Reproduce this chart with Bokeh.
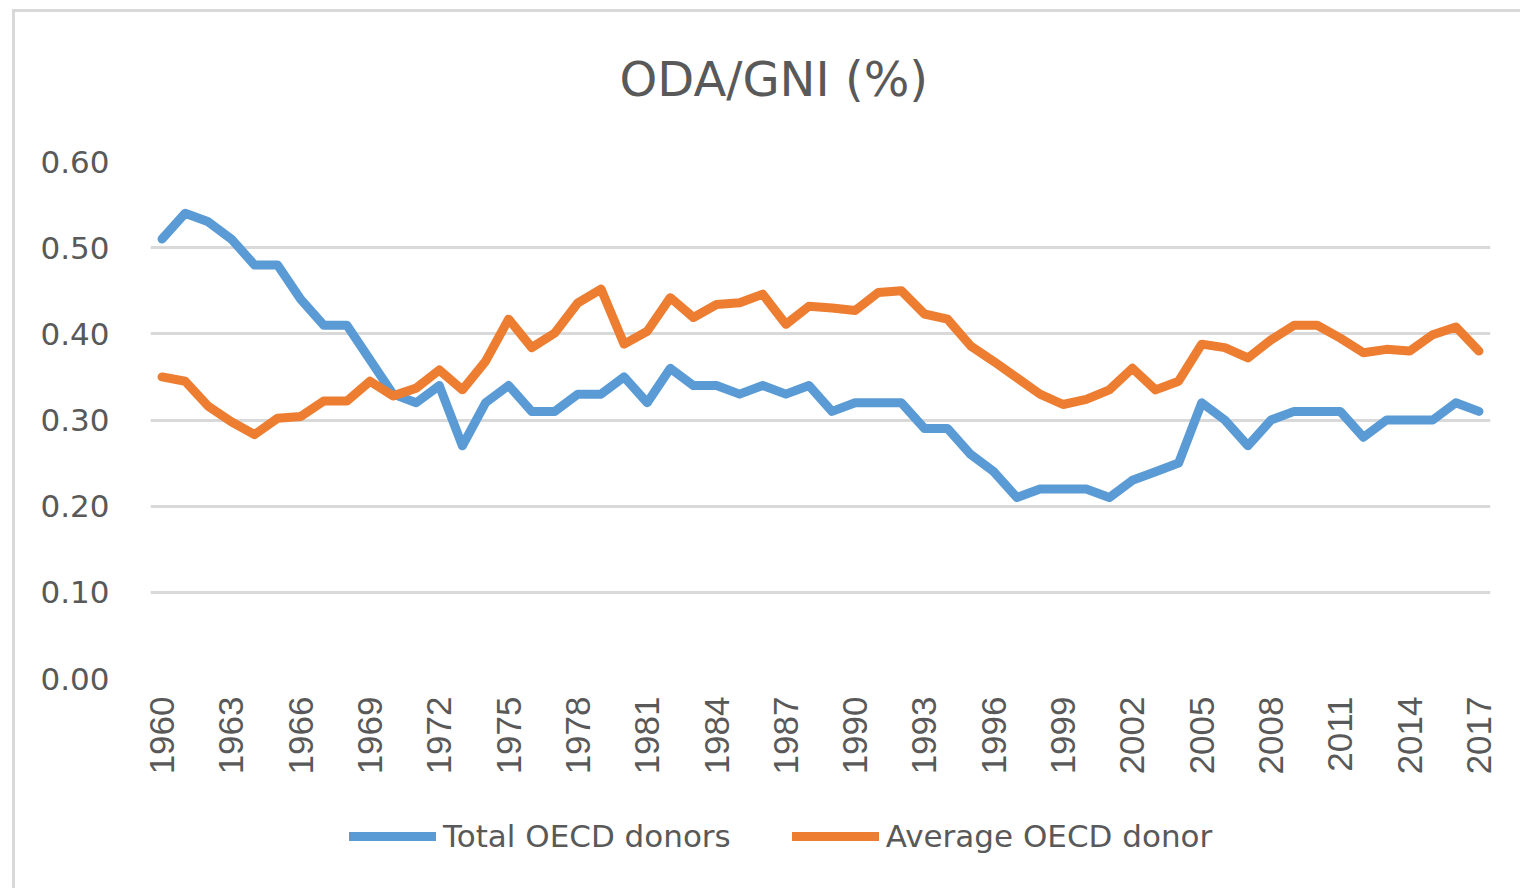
from math import pi
from bokeh.plotting import figure
from bokeh.layouts import column
from bokeh.models import Range1d, FixedTicker, NumeralTickFormatter, Legend, LegendItem, Title
from bokeh.embed import file_html
from bokeh.resources import INLINE

# ---- data ----
years = list(range(1960, 2018))
tick_years = years[::3]
total_oecd = [0.51, 0.54, 0.53, 0.51, 0.48, 0.48, 0.44, 0.41, 0.41, 0.37,
              0.33, 0.32, 0.34, 0.27, 0.32, 0.34, 0.31, 0.31, 0.33, 0.33,
              0.35, 0.32, 0.36, 0.34, 0.34, 0.33, 0.34, 0.33, 0.34, 0.31,
              0.32, 0.32, 0.32, 0.29, 0.29, 0.26, 0.24, 0.21, 0.22, 0.22,
              0.22, 0.21, 0.23, 0.24, 0.25, 0.32, 0.30, 0.27, 0.30, 0.31,
              0.31, 0.31, 0.28, 0.30, 0.30, 0.30, 0.32, 0.31]
average_oecd = [0.350, 0.345, 0.316, 0.298, 0.283, 0.302, 0.304, 0.322, 0.322, 0.345,
                0.328, 0.337, 0.358, 0.335, 0.368, 0.417, 0.384, 0.401, 0.436, 0.452,
                0.388, 0.403, 0.442, 0.419, 0.434, 0.436, 0.446, 0.411, 0.432, 0.430,
                0.427, 0.448, 0.450, 0.423, 0.417, 0.386, 0.368, 0.349, 0.330, 0.318,
                0.324, 0.335, 0.360, 0.335, 0.345, 0.388, 0.384, 0.372, 0.393, 0.410,
                0.410, 0.395, 0.378, 0.382, 0.380, 0.399, 0.408, 0.380]
series_names = ["Total OECD donors", "Average OECD donor"]
title_text = "ODA/GNI (%)"

BLUE = "#5B9BD5"
ORANGE = "#ED7D31"
TXT = "#595959"
GRID = "#D9D9D9"
LW = 9

p = figure(width=1505, height=788, title=None,
           x_range=Range1d(1959.5, 2017.5), y_range=Range1d(0, 0.6),
           output_backend="svg", toolbar_location=None,
           min_border_left=135, min_border_right=30,
           min_border_top=149, min_border_bottom=122)
p.outline_line_color = None
p.background_fill_color = "white"
p.border_fill_color = "white"

# spacer between frame and title, then the title itself (outermost)
spacer = Title(text=" ", text_font_size="2px", standoff=46)
p.add_layout(spacer, "above")
main_title = Title(text=title_text, align="left", offset=469, standoff=10,
                   text_font="DejaVu Sans", text_font_size="48px",
                   text_font_style="normal", text_color=TXT)
p.add_layout(main_title, "above")

# axes
p.xaxis.ticker = FixedTicker(ticks=tick_years)
p.xaxis.major_label_orientation = pi / 2
p.xaxis.major_label_text_font = "Liberation Sans"
p.xaxis.major_label_text_font_size = "35px"
p.xaxis.major_label_text_color = TXT
p.xaxis.major_label_standoff = 12
p.xaxis.axis_line_color = None
p.xaxis.major_tick_line_color = None
p.xaxis.minor_tick_line_color = None

p.yaxis.ticker = FixedTicker(ticks=[0, 0.1, 0.2, 0.3, 0.4, 0.5, 0.6])
p.yaxis.formatter = NumeralTickFormatter(format="0.00")
p.yaxis.major_label_text_font = "DejaVu Sans"
p.yaxis.major_label_text_font_size = "31px"
p.yaxis.major_label_text_color = TXT
p.yaxis.major_label_standoff = 35
p.yaxis.axis_line_color = None
p.yaxis.major_tick_line_color = None
p.yaxis.minor_tick_line_color = None

p.xgrid.grid_line_color = None
p.ygrid.grid_line_color = GRID
p.ygrid.grid_line_width = 3

p.line(years, total_oecd, line_color=BLUE, line_width=LW,
       line_join="round", line_cap="round")
p.line(years, average_oecd, line_color=ORANGE, line_width=LW,
       line_join="round", line_cap="round")

# ---- legend strip below the chart (its ranges keep the series out of view) ----
pl = figure(width=1505, height=88, x_range=Range1d(0, 1), y_range=Range1d(0, 1),
            output_backend="svg", toolbar_location=None,
            min_border=0, min_border_left=0, min_border_right=0,
            min_border_top=0, min_border_bottom=0)
pl.axis.visible = False
pl.grid.visible = False
pl.outline_line_color = None
pl.border_fill_color = "white"
lr1 = pl.line(years, total_oecd, line_color=BLUE, line_width=LW, line_cap="round")
lr2 = pl.line(years, average_oecd, line_color=ORANGE, line_width=LW, line_cap="round")
legend = Legend(items=[LegendItem(label=series_names[0], renderers=[lr1]),
                       LegendItem(label=series_names[1], renderers=[lr2])],
                orientation="horizontal", location=(199, 34),
                glyph_width=87, glyph_height=20, label_standoff=7, spacing=61,
                padding=0, margin=0, border_line_color=None,
                background_fill_alpha=0,
                label_text_font="DejaVu Sans", label_text_font_size="31px",
                label_text_color=TXT)
pl.add_layout(legend, "center")

layout = column(p, pl, spacing=0,
                styles={"border-top": "3px solid #D9D9D9", "border-left": "3px solid #D9D9D9",
                        "margin-left": "12px", "margin-top": "9px"})

open("out.html", "w").write(file_html(layout, INLINE))
